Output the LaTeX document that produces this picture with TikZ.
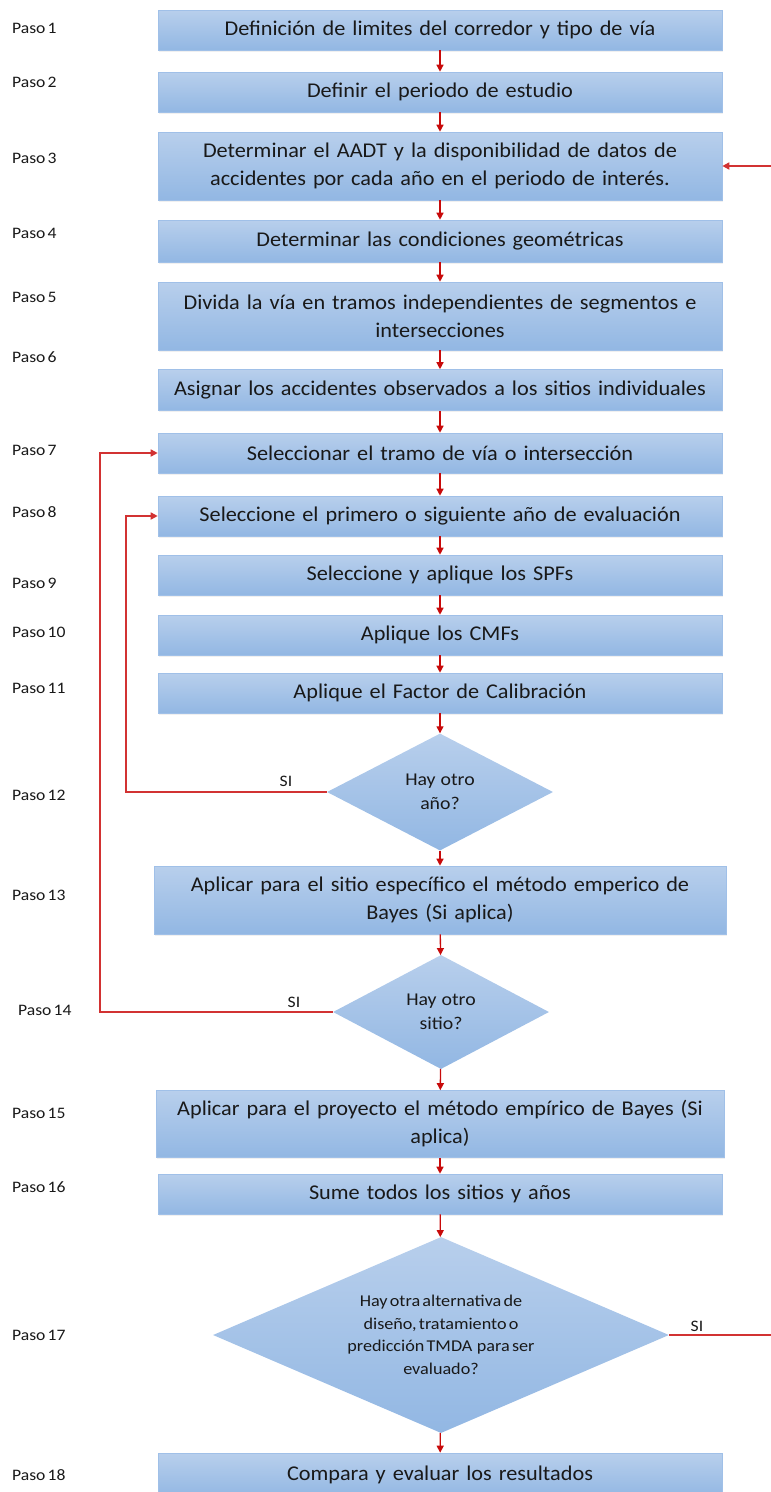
\documentclass[tikz,border=0pt]{standalone}
\usepackage{fontspec}
\setmainfont{Carlito}[FakeStretch=1.1, WordSpace=0.55]
\newfontfamily\boxfam{Carlito}[FakeStretch=1.06, WordSpace=0.45]
\usetikzlibrary{shapes.geometric,arrows.meta,shadows}
\definecolor{boxtop}{RGB}{184,207,236}
\definecolor{boxbot}{RGB}{146,183,227}
\definecolor{boxborder}{RGB}{160,192,232}
\definecolor{txt}{RGB}{25,25,25}
\definecolor{arrred}{RGB}{200,10,10}
\definecolor{loopred}{RGB}{210,50,50}
\newcommand{\boxfont}{\boxfam\fontsize{21}{28}\selectfont}
\newcommand{\pasofont}{\fontsize{16}{18}\selectfont}
\tikzset{
  stepbox/.style={draw=boxborder, line width=0.6pt, top color=boxtop, bottom color=boxbot,
    minimum width=564pt, minimum height=40pt, text width=556pt, align=center, inner sep=0pt,
    font=\boxfont, text=txt, drop shadow={opacity=0.12, shadow xshift=0.8pt, shadow yshift=-1.5pt}},
  decision/.style={shape=diamond, top color=boxtop, bottom color=boxbot, draw=none,
    inner sep=0pt, align=center, text=txt, aspect=2.3},
  pasolbl/.style={anchor=west, font=\pasofont, text=txt, inner sep=0pt},
  silbl/.style={font=\pasofont, text=txt, inner sep=0pt},
  arr/.style={draw=arrred, line width=1.3pt, -{Triangle[length=7pt,width=7pt]}},
  loopl/.style={draw=loopred, line width=1.6pt},
  looparr/.style={loopl, -{Triangle[length=7pt,width=7pt]}},
}
\begin{document}
\begin{tikzpicture}[x=1pt,y=-1pt]
\useasboundingbox (0,0) rectangle (771,1492);
% boxes
\node[stepbox] (b1) at (440,30) {Definición de limites del corredor y tipo de vía};
\node[stepbox] (b2) at (440,92) {Definir el periodo de estudio};
\node[stepbox, minimum height=68pt] (b3) at (440,166) {Determinar el AADT y la disponibilidad de datos de\\accidentes por cada año en el periodo de interés.};
\node[stepbox, minimum height=42pt] (b4) at (440,241) {Determinar las condiciones geométricas};
\node[stepbox, minimum height=68pt] (b5) at (440,316) {Divida la vía en tramos independientes de segmentos e\\intersecciones};
\node[stepbox, minimum height=41pt] (b6) at (440,390) {Asignar los accidentes observados a los sitios individuales};
\node[stepbox] (b7) at (440,453) {Seleccionar el tramo de vía o intersección};
\node[stepbox] (b8) at (440,516) {Seleccione el primero o siguiente año de evaluación};
\node[stepbox] (b9) at (440,575) {Seleccione y aplique los SPFs};
\node[stepbox] (b10) at (440,635) {Aplique los CMFs};
\node[stepbox] (b11) at (440,693) {Aplique el Factor de Calibración};
\node[decision, minimum width=226pt, minimum height=117pt, font=\fontsize{18}{24}\selectfont] (d1) at (440,792) {Hay~ otro\\año?};
\node[stepbox, minimum width=572pt, minimum height=68pt] (b13) at (440,900) {Aplicar para el sitio específico el método emperico de\\Bayes (Si aplica)};
\node[decision, minimum width=216pt, minimum height=114pt, font=\fontsize{18}{24}\selectfont] (d2) at (441,1012) {Hay~ otro\\sitio?};
\node[stepbox, minimum width=568pt, minimum height=67pt] (b15) at (440,1124) {Aplicar para el proyecto el método empírico de Bayes (Si\\aplica)};
\node[stepbox] (b16) at (440,1194) {Sume todos los sitios y años};
\node[decision, minimum width=456pt, minimum height=196pt, font=\fontsize{16.5}{22.5}\selectfont] (d3) at (441,1335) {Hay otra alternativa de\\diseño, tratamiento o\\predicción TMDA~ para ser\\evaluado?};
\node[stepbox, minimum height=44pt] (b18) at (440,1475) {Compara y evaluar los resultados};
% step labels
\node[pasolbl] (p1) at (12,28) {Paso 1};
\node[pasolbl] (p2) at (12,82) {Paso 2};
\node[pasolbl] (p3) at (12,158) {Paso 3};
\node[pasolbl] (p4) at (12,233) {Paso 4};
\node[pasolbl] (p5) at (12,297) {Paso 5};
\node[pasolbl] (p6) at (12,357) {Paso 6};
\node[pasolbl] (p7) at (12,450) {Paso 7};
\node[pasolbl] (p8) at (12,512) {Paso 8};
\node[pasolbl] (p9) at (12,583) {Paso 9};
\node[pasolbl] (p10) at (12,632) {Paso 10};
\node[pasolbl] (p11) at (12,688) {Paso 11};
\node[pasolbl] (p12) at (12,795) {Paso 12};
\node[pasolbl] (p13) at (12,895) {Paso 13};
\node[pasolbl] (p14) at (18,1010) {Paso 14};
\node[pasolbl] (p15) at (12,1113) {Paso 15};
\node[pasolbl] (p16) at (12,1187) {Paso 16};
\node[pasolbl] (p17) at (12,1335) {Paso 17};
\node[pasolbl] (p18) at (12,1475) {Paso 18};
% main flow
\draw[arr] (b1) -- (b2);
\draw[arr] (b2) -- (b3);
\draw[arr] (b3) -- (b4);
\draw[arr] (b4) -- (b5);
\draw[arr] (b5) -- (b6);
\draw[arr] (b6) -- (b7);
\draw[arr] (b7) -- (b8);
\draw[arr] (b8) -- (b9);
\draw[arr] (b9) -- (b10);
\draw[arr] (b10) -- (b11);
\draw[arr] (b11) -- (d1);
\draw[arr] (d1) -- (b13);
\draw[arr] (b13) -- (d2);
\draw[arr] (d2) -- (b15);
\draw[arr] (b15) -- (b16);
\draw[arr] (b16) -- (d3);
\draw[arr] (d3) -- (b18);
% loops
\coordinate (l8) at (126,516);
\coordinate (l7) at (100,453);
\draw[looparr] (d1.west) -| (l8) -- (b8.west);
\draw[looparr] (d2.west) -| (l7) -- (b7.west);
\node[silbl] (si1) at (286,781) {SI};
\node[silbl] (si2) at (294,1002) {SI};
% right side
\coordinate (r3) at (771,166);
\coordinate (r17) at (771,1335);
\draw[looparr] (r3) -- (b3.east);
\draw[loopl] (d3.east) -- (r17);
\node[silbl] (si3) at (697,1326) {SI};
\end{tikzpicture}
\end{document}
